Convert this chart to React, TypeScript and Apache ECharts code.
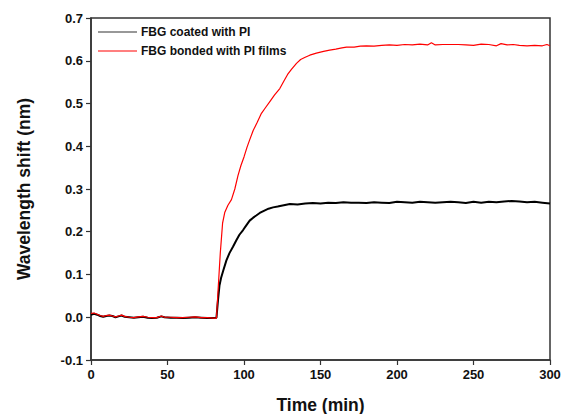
import React, { useEffect, useRef } from "react";
import * as echarts from "echarts";

const seriesNames = ["FBG coated with PI", "FBG bonded with PI films"];

const coatedPI: [number, number][] = [
  [0, 0.006], [2, 0.008], [4, 0.006], [6, 0.003], [8, 0.001], [10, 0.003], [12, 0.004], [14, 0.003],
  [16, 0.0], [18, 0.002], [20, 0.004], [22, 0.001], [25, 0.0], [28, -0.001], [31, 0.0], [34, 0.001],
  [37, -0.001], [40, -0.002], [43, -0.001], [46, 0.002], [48, 0.0], [52, -0.001], [56, -0.001],
  [60, -0.002], [64, -0.001], [68, 0.0], [72, -0.001], [76, -0.002], [80, -0.002], [82, -0.001],
  [83, 0.04], [84, 0.075], [85, 0.092], [86.5, 0.11], [88.5, 0.133], [90.5, 0.15], [92.8, 0.165],
  [95, 0.18], [97, 0.193], [99.4, 0.204], [101.5, 0.215], [103.7, 0.226], [106, 0.233], [108, 0.238],
  [110.3, 0.244], [113, 0.249], [116, 0.254], [119, 0.257], [122, 0.259], [126, 0.262], [130, 0.265],
  [135, 0.264], [140, 0.266], [145, 0.267], [150, 0.266], [155, 0.268], [160, 0.267], [165, 0.269],
  [170, 0.268], [175, 0.268], [180, 0.267], [185, 0.269], [190, 0.268], [195, 0.267], [200, 0.27],
  [205, 0.269], [210, 0.268], [215, 0.27], [220, 0.269], [225, 0.268], [230, 0.269], [235, 0.27],
  [240, 0.269], [245, 0.267], [250, 0.27], [255, 0.268], [260, 0.27], [265, 0.269], [270, 0.271],
  [275, 0.272], [280, 0.271], [285, 0.269], [290, 0.27], [295, 0.268], [300, 0.266],
];

const bondedPI: [number, number][] = [
  [0, 0.009], [2, 0.01], [4, 0.007], [6, 0.004], [8, 0.002], [10, 0.004], [12, 0.005], [14, 0.003],
  [16, 0.001], [18, 0.003], [20, 0.005], [22, 0.002], [25, 0.0], [28, -0.001], [31, 0.001], [34, 0.002],
  [37, 0.0], [40, -0.001], [43, -0.001], [46, 0.003], [48, 0.0], [52, 0.0], [56, -0.001],
  [60, -0.001], [64, 0.0], [68, 0.001], [72, -0.001], [76, -0.001], [80, -0.002], [82, -0.002],
  [83, 0.06], [84.5, 0.15], [86, 0.22], [87.4, 0.245], [89.5, 0.262], [91.8, 0.275], [94, 0.3],
  [96.1, 0.332], [98, 0.355], [100, 0.375], [102, 0.398], [103.7, 0.415], [106, 0.437], [108.5, 0.455],
  [111.4, 0.477], [114, 0.49], [117, 0.505], [120, 0.52], [123.4, 0.535], [126, 0.552], [128.5, 0.568],
  [131, 0.58], [134.3, 0.594], [137, 0.603], [140, 0.608], [143, 0.613], [147.3, 0.618], [152, 0.622],
  [156, 0.625], [160, 0.627], [164, 0.63], [167, 0.632], [172, 0.632], [176, 0.634], [180, 0.635],
  [185, 0.634], [190, 0.636], [195, 0.637], [200, 0.636], [205, 0.638], [210, 0.637], [215, 0.639],
  [220, 0.637], [222.5, 0.642], [225, 0.637], [230, 0.638], [235, 0.638], [240, 0.638], [245, 0.637],
  [250, 0.636], [255, 0.639], [260, 0.638], [265, 0.635], [268, 0.64], [272, 0.637], [276, 0.638],
  [280, 0.636], [285, 0.635], [290, 0.636], [295, 0.635], [298, 0.638], [300, 0.635],
];

const xName = "Time (min)";
const yName = "Wavelength shift (nm)";

const FONT = "'Liberation Sans', Arial, sans-serif";

export default function App() {
  const ref = useRef<HTMLDivElement>(null);
  useEffect(() => {
    if (!ref.current) return;
    const chart = echarts.init(ref.current, undefined, { renderer: "svg" });
    const axisColor = "#333";
    chart.setOption({
      animation: false,
      backgroundColor: "#fff",
      grid: {
        left: 91,
        right: 12,
        top: 18,
        bottom: 54,
        outerBoundsMode: "none",
        containLabel: false,
        show: true,
        borderColor: axisColor,
        borderWidth: 1.5,
        backgroundColor: "transparent",
      },
      legend: {
        orient: "vertical",
        left: 98,
        top: 26,
        padding: 0,
        icon: "rect",
        itemWidth: 39,
        itemHeight: 1.2,
        itemGap: 7,
        textStyle: { fontFamily: FONT, fontWeight: "bold", fontSize: 12, color: "#111", padding: [0, 0, 0, -1] },
        data: seriesNames,
      },
      xAxis: {
        type: "value",
        min: 0,
        max: 300,
        interval: 50,
        name: xName,
        nameLocation: "middle",
        nameGap: 36,
        nameTextStyle: { fontFamily: FONT, fontWeight: "bold", fontSize: 17.5, color: "#111" },
        axisLine: { show: true, onZero: false, lineStyle: { color: axisColor, width: 1.5 } },
        axisTick: { show: true, inside: false, length: 5, lineStyle: { color: axisColor, width: 1.2 } },
        axisLabel: { fontFamily: FONT, fontWeight: "bold", fontSize: 13, color: "#111", margin: 8 },
        splitLine: { show: false },
      },
      yAxis: {
        type: "value",
        min: -0.1,
        max: 0.7,
        interval: 0.1,
        name: yName,
        nameLocation: "middle",
        nameGap: 58,
        nameTextStyle: { fontFamily: FONT, fontWeight: "bold", fontSize: 17.5, color: "#111" },
        axisLine: { show: true, onZero: false, lineStyle: { color: axisColor, width: 1.5 } },
        axisTick: { show: true, inside: false, length: 5, lineStyle: { color: axisColor, width: 1.2 } },
        axisLabel: {
          fontFamily: FONT,
          fontWeight: "bold",
          fontSize: 13,
          color: "#111",
          margin: 8,
          formatter: (v: number) => (Math.abs(v) < 1e-9 ? "0.0" : v.toFixed(1)),
        },
        splitLine: { show: false },
      },
      series: [
        {
          name: seriesNames[0],
          type: "line",
          data: coatedPI,
          showSymbol: false,
          symbol: "none",
          lineStyle: { color: "#000", width: 2 },
          itemStyle: { color: "#333" },
        },
        {
          name: seriesNames[1],
          type: "line",
          data: bondedPI,
          showSymbol: false,
          symbol: "none",
          lineStyle: { color: "#ff0000", width: 1.2 },
          itemStyle: { color: "#ff0000" },
        },
      ],
    });
    return () => chart.dispose();
  }, []);
  return (
    <div
      ref={ref}
      style={{ position: "fixed", left: 0, top: 0, width: 562, height: 414, background: "#fff" }}
    />
  );
}
